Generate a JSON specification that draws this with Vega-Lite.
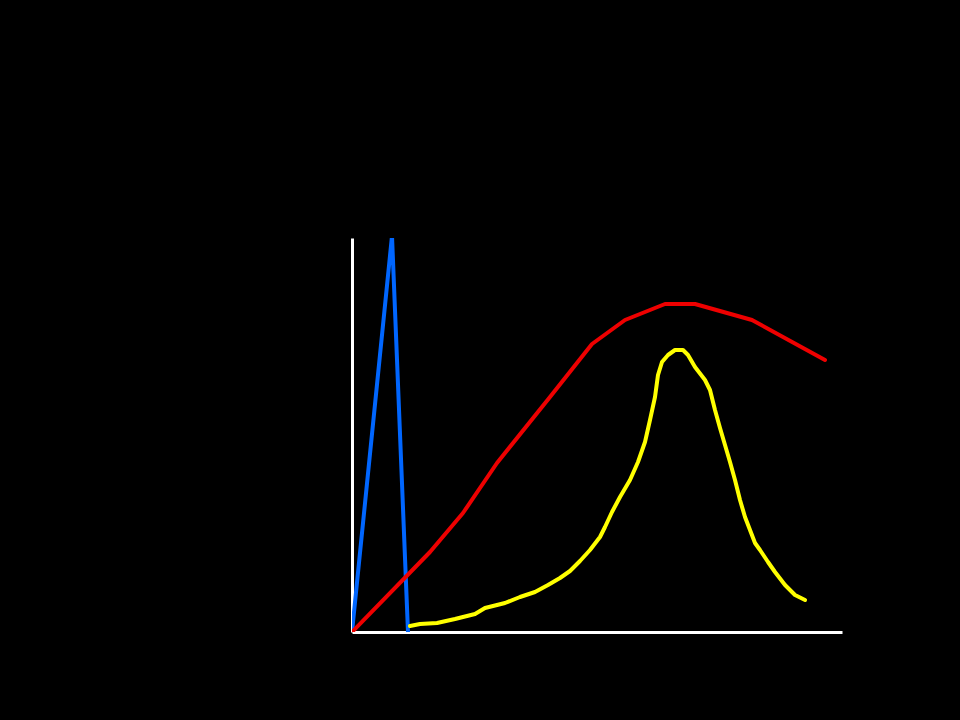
{
  "$schema": "https://vega.github.io/schema/vega-lite/v6.json",
  "autosize": "none",
  "width": 490,
  "height": 394,
  "padding": {"left": 352, "top": 238, "right": 118, "bottom": 88},
  "background": "black",
  "config": {"view": {"stroke": null}},
  "data": {
    "values": [
      {"s": "blue", "x": 0, "y": 0},
      {"s": "blue", "x": 40, "y": 396},
      {"s": "blue", "x": 56, "y": 0},
      {"s": "red", "x": 0, "y": 0},
      {"s": "red", "x": 78, "y": 80},
      {"s": "red", "x": 111, "y": 119},
      {"s": "red", "x": 145, "y": 169},
      {"s": "red", "x": 198, "y": 235},
      {"s": "red", "x": 240, "y": 288},
      {"s": "red", "x": 273, "y": 312},
      {"s": "red", "x": 313, "y": 328},
      {"s": "red", "x": 343, "y": 328},
      {"s": "red", "x": 400, "y": 312},
      {"s": "red", "x": 473, "y": 272},
      {"s": "yellow", "x": 58, "y": 6},
      {"s": "yellow", "x": 68, "y": 8},
      {"s": "yellow", "x": 85, "y": 9},
      {"s": "yellow", "x": 103, "y": 13},
      {"s": "yellow", "x": 123, "y": 18},
      {"s": "yellow", "x": 133, "y": 24},
      {"s": "yellow", "x": 153, "y": 29},
      {"s": "yellow", "x": 168, "y": 35},
      {"s": "yellow", "x": 183, "y": 40},
      {"s": "yellow", "x": 196, "y": 47},
      {"s": "yellow", "x": 208, "y": 54},
      {"s": "yellow", "x": 218, "y": 61},
      {"s": "yellow", "x": 228, "y": 71},
      {"s": "yellow", "x": 238, "y": 82},
      {"s": "yellow", "x": 248, "y": 95},
      {"s": "yellow", "x": 253, "y": 105},
      {"s": "yellow", "x": 260, "y": 120},
      {"s": "yellow", "x": 268, "y": 135},
      {"s": "yellow", "x": 278, "y": 152},
      {"s": "yellow", "x": 286, "y": 170},
      {"s": "yellow", "x": 293, "y": 190},
      {"s": "yellow", "x": 298, "y": 212},
      {"s": "yellow", "x": 303, "y": 235},
      {"s": "yellow", "x": 306, "y": 257},
      {"s": "yellow", "x": 310, "y": 270},
      {"s": "yellow", "x": 316, "y": 277},
      {"s": "yellow", "x": 323, "y": 282},
      {"s": "yellow", "x": 331, "y": 282},
      {"s": "yellow", "x": 336, "y": 277},
      {"s": "yellow", "x": 343, "y": 265},
      {"s": "yellow", "x": 353, "y": 252},
      {"s": "yellow", "x": 358, "y": 242},
      {"s": "yellow", "x": 363, "y": 222},
      {"s": "yellow", "x": 368, "y": 204},
      {"s": "yellow", "x": 373, "y": 187},
      {"s": "yellow", "x": 378, "y": 170},
      {"s": "yellow", "x": 383, "y": 152},
      {"s": "yellow", "x": 388, "y": 132},
      {"s": "yellow", "x": 393, "y": 115},
      {"s": "yellow", "x": 398, "y": 102},
      {"s": "yellow", "x": 403, "y": 89},
      {"s": "yellow", "x": 408, "y": 82},
      {"s": "yellow", "x": 416, "y": 70},
      {"s": "yellow", "x": 423, "y": 60},
      {"s": "yellow", "x": 433, "y": 47},
      {"s": "yellow", "x": 443, "y": 37},
      {"s": "yellow", "x": 453, "y": 32}
    ]
  },
  "mark": {"type": "line", "strokeWidth": 4, "strokeCap": "round", "strokeJoin": "round", "clip": true},
  "encoding": {
    "x": {
      "field": "x", "type": "quantitative",
      "scale": {"domain": [0, 490], "nice": false},
      "axis": {"title": null, "labels": false, "ticks": false, "grid": false, "domainColor": "white", "domainWidth": 3}
    },
    "y": {
      "field": "y", "type": "quantitative",
      "scale": {"domain": [0, 394], "nice": false},
      "axis": {"title": null, "labels": false, "ticks": false, "grid": false, "domainColor": "white", "domainWidth": 3}
    },
    "color": {
      "field": "s", "type": "nominal",
      "scale": {"domain": ["blue", "red", "yellow"], "range": ["#0066ff", "#ee0000", "#ffff00"]},
      "legend": null
    }
  }
}
